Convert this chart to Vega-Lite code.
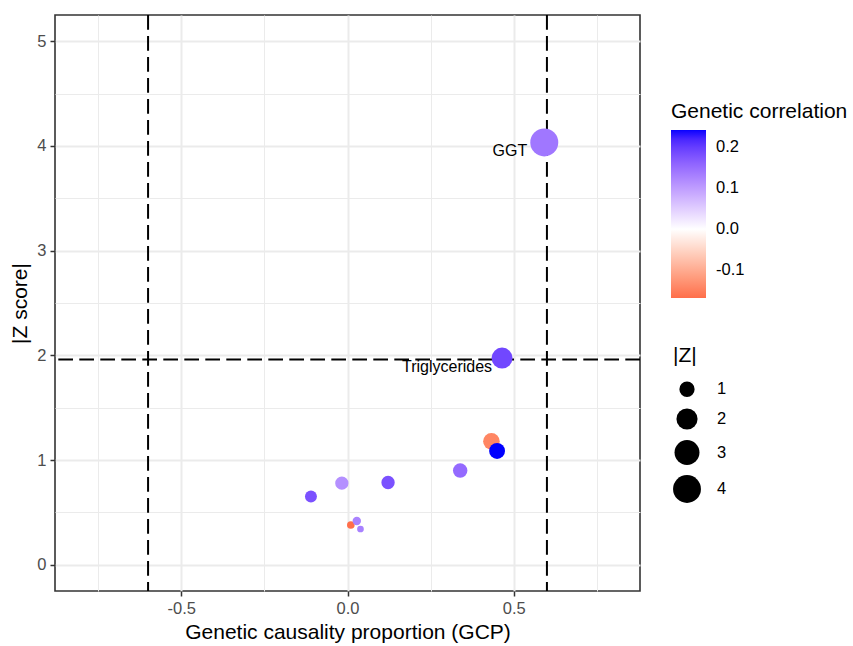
{
  "$schema": "https://vega.github.io/schema/vega-lite/v6.json",
  "width": 585,
  "height": 576,
  "autosize": {"type": "none"},
  "padding": {"left": 55, "top": 15, "right": 213, "bottom": 55},
  "background": "white",
  "config": {
    "font": "Liberation Sans",
    "view": {"stroke": "#333333", "strokeWidth": 1.6},
    "axis": {
      "domain": false,
      "tickColor": "#333333",
      "tickWidth": 1.5,
      "tickSize": 5,
      "labelColor": "#4D4D4D",
      "labelFontSize": 16.5,
      "labelPadding": 4,
      "gridColor": "#EBEBEB",
      "titleFontSize": 21,
      "titleFontWeight": "normal",
      "titleColor": "black"
    },
    "legend": {
      "titleFontSize": 21,
      "titleFontWeight": "normal",
      "titleColor": "black",
      "labelFontSize": 16.5,
      "labelColor": "black"
    }
  },
  "data": {
    "values": [
      {"gcp": -0.110, "z": 0.653, "rg": 0.18, "label": ""},
      {"gcp": -0.017, "z": 0.780, "rg": 0.114, "label": ""},
      {"gcp": 0.122, "z": 0.786, "rg": 0.18, "label": ""},
      {"gcp": 0.010, "z": 0.380, "rg": -0.168, "label": ""},
      {"gcp": 0.028, "z": 0.418, "rg": 0.127, "label": ""},
      {"gcp": 0.039, "z": 0.342, "rg": 0.13, "label": ""},
      {"gcp": 0.339, "z": 0.900, "rg": 0.154, "label": ""},
      {"gcp": 0.433, "z": 1.179, "rg": -0.143, "label": ""},
      {"gcp": 0.450, "z": 1.087, "rg": 0.242, "label": ""},
      {"gcp": 0.465, "z": 1.974, "rg": 0.19, "label": "Triglycerides"},
      {"gcp": 0.592, "z": 4.033, "rg": 0.14, "label": "GGT"}
    ]
  },
  "encoding": {
    "x": {
      "field": "gcp",
      "type": "quantitative",
      "scale": {"domain": [-0.88, 0.88], "nice": false, "zero": false},
      "axis": {
        "values": [-0.75, -0.5, -0.25, 0, 0.25, 0.5, 0.75],
        "labelExpr": "abs(round(datum.value*4)) % 2 == 1 ? '' : (datum.value < 0 ? '-' : '') + format(abs(datum.value), '.1f')",
        "tickOpacity": {"condition": {"test": "abs(round(datum.value*4)) % 2 == 1", "value": 0}, "value": 1},
        "gridWidth": {"condition": {"test": "abs(round(datum.value*4)) % 2 == 1", "value": 1}, "value": 2},
        "title": "Genetic causality proportion (GCP)",
        "titlePadding": 5
      }
    },
    "y": {
      "field": "z",
      "type": "quantitative",
      "scale": {"domain": [-0.25, 5.25], "nice": false, "zero": false},
      "axis": {
        "values": [0, 0.5, 1, 1.5, 2, 2.5, 3, 3.5, 4, 4.5, 5],
        "labelExpr": "abs(round(datum.value*2)) % 2 == 1 ? '' : format(datum.value, 'd')",
        "tickOpacity": {"condition": {"test": "abs(round(datum.value*2)) % 2 == 1", "value": 0}, "value": 1},
        "gridWidth": {"condition": {"test": "abs(round(datum.value*2)) % 2 == 1", "value": 1}, "value": 2},
        "title": "|Z score|",
        "titlePadding": 6
      }
    }
  },
  "layer": [
    {
      "data": {"values": [{"v": 1.96}]},
      "mark": {"type": "rule", "color": "black", "strokeWidth": 2, "strokeDash": [14.7, 6.3]},
      "encoding": {"y": {"field": "v", "type": "quantitative"}, "x": null}
    },
    {
      "data": {"values": [{"v": -0.6}, {"v": 0.6}]},
      "mark": {"type": "rule", "color": "black", "strokeWidth": 2, "strokeDash": [14.7, 6.3]},
      "encoding": {"x": {"field": "v", "type": "quantitative"}, "y": null}
    },
    {
      "mark": {"type": "circle", "opacity": 1, "strokeWidth": 0},
      "encoding": {
        "color": {
          "field": "rg",
          "type": "quantitative",
          "scale": {"domain": [-0.168, 0, 0.242], "range": ["#FF6E4A", "#FFFFFF", "#0000FF"], "interpolate": "lab"},
          "legend": {
            "title": "Genetic correlation",
            "orient": "none",
            "legendX": 616,
            "legendY": 86,
            "direction": "vertical",
            "gradientLength": 168,
            "gradientThickness": 35,
            "gradientStrokeWidth": 0,
            "titlePadding": 8,
            "values": [-0.1, 0, 0.1, 0.2],
            "format": ".1f",
            "labelExpr": "(datum.value < 0 ? '-' : '') + format(abs(datum.value), '.1f')",
            "labelOffset": 10
          }
        },
        "size": {
          "field": "z",
          "type": "quantitative",
          "scale": {"type": "pow", "exponent": 0.65, "domain": [0.342, 4.033], "range": [45, 784], "zero": false},
          "legend": {
            "title": "|Z|",
            "orient": "none",
            "legendX": 618,
            "legendY": 330,
            "values": [1, 2, 3, 4],
            "symbolFillColor": "black",
            "symbolStrokeWidth": 0,
            "symbolType": "circle",
            "titlePadding": 15,
            "rowPadding": 10,
            "labelOffset": 16
          }
        }
      }
    },
    {
      "transform": [{"filter": "datum.label == 'GGT'"}],
      "mark": {"type": "text", "align": "right", "baseline": "alphabetic", "dx": -17, "dy": 14, "fontSize": 16, "color": "black"},
      "encoding": {"text": {"field": "label"}}
    },
    {
      "transform": [{"filter": "datum.label == 'Triglycerides'"}],
      "mark": {"type": "text", "align": "right", "baseline": "alphabetic", "dx": -10, "dy": 14, "fontSize": 16, "color": "black"},
      "encoding": {"text": {"field": "label"}}
    }
  ]
}
